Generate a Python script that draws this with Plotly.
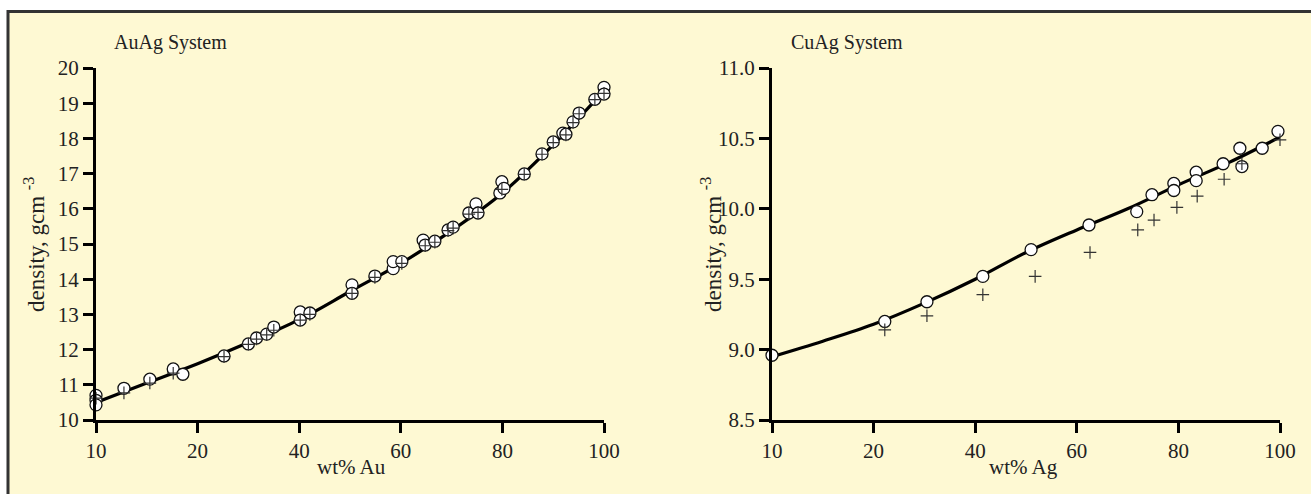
import plotly.graph_objects as go

# ---------------- data ----------------
# AuAg system: x = wt% Au, y = density (g cm^-3)
auag_circle_x = [0, 0, 0, 5.5, 10.6, 15.2, 17.1, 25.2, 30.0, 31.6, 33.6, 35.0, 40.2, 40.2, 42.1,
                 50.4, 50.4, 54.9, 58.5, 58.5, 60.2, 64.4, 64.8, 66.7, 69.3, 70.3, 73.4, 74.8, 75.2,
                 79.5, 79.9, 80.3, 84.3, 87.8, 90.0, 91.9, 92.5, 93.9, 95.1, 98.2, 100, 100]
auag_circle_y = [10.70, 10.56, 10.43, 10.90, 11.16, 11.45, 11.30, 11.82, 12.16, 12.33, 12.44, 12.64,
                 13.07, 12.84, 13.04, 13.84, 13.60, 14.09, 14.30, 14.50, 14.50, 15.11, 14.97, 15.08,
                 15.40, 15.48, 15.88, 16.14, 15.88, 16.45, 16.77, 16.58, 16.99, 17.56, 17.90, 18.15,
                 18.12, 18.47, 18.72, 19.11, 19.45, 19.26]
auag_plus_x = [0, 5.5, 10.6, 15.2, 25.2, 30.0, 31.6, 33.6, 35.0, 40.2, 42.1, 50.4, 54.9, 60.2,
               64.8, 66.7, 69.3, 70.3, 73.4, 75.2, 79.9, 84.3, 87.8, 90.0, 92.5, 93.9, 95.1,
               98.2, 100]
auag_plus_y = [10.62, 10.77, 11.05, 11.33, 11.80, 12.15, 12.30, 12.42, 12.55, 12.84, 13.00, 13.60,
               14.05, 14.45, 14.95, 15.05, 15.38, 15.45, 15.85, 15.90, 16.55, 16.98, 17.55, 17.88,
               18.10, 18.45, 18.70, 19.10, 19.28]
auag_curve_x = [0, 10, 20, 30, 40, 50, 60, 70, 80, 90, 100]
auag_curve_y = [10.50, 11.05, 11.60, 12.20, 12.85, 13.65, 14.45, 15.38, 16.45, 17.82, 19.35]

# CuAg system: x = wt% Ag, y = density (g cm^-3)
cuag_circle_x = [0, 22.2, 30.5, 41.5, 51.0, 62.4, 71.8, 74.8, 79.1, 79.1, 83.5, 83.5, 88.8,
                 92.1, 92.5, 96.5, 99.6]
cuag_circle_y = [8.96, 9.20, 9.34, 9.52, 9.71, 9.885, 9.98, 10.10, 10.18, 10.13, 10.26, 10.20,
                 10.32, 10.43, 10.30, 10.43, 10.55]
cuag_plus_x = [22.2, 30.5, 41.5, 51.8, 62.6, 72.0, 75.2, 79.7, 83.7, 89.0, 92.5, 100]
cuag_plus_y = [9.14, 9.24, 9.39, 9.52, 9.69, 9.85, 9.92, 10.01, 10.09, 10.21, 10.32, 10.49]
cuag_curve_x = [0, 10, 20, 30, 40, 50, 60, 70, 80, 90, 100]
cuag_curve_y = [8.95, 9.06, 9.18, 9.33, 9.50, 9.69, 9.85, 10.00, 10.17, 10.33, 10.51]

x_tickvals = [0, 20, 40, 60, 80, 100]
x_ticktext = ["10", "20", "40", "60", "80", "100"]
auag_yticks = [10, 11, 12, 13, 14, 15, 16, 17, 18, 19, 20]
cuag_yticks = [8.5, 9.0, 9.5, 10.0, 10.5, 11.0]

# ---------------- styling ----------------
W, H = 1311, 494
BG = "#FEF9D3"
FONT = "Liberation Serif"
TXT = "#222222"

fig = go.Figure()

def add_panel(cx, cy, px_, py_, lx, ly, xa, ya):
    fig.add_trace(go.Scatter(x=lx, y=ly, mode="lines", line=dict(color="black", width=3.2, shape="spline"),
                             xaxis=xa, yaxis=ya, hoverinfo="skip"))
    fig.add_trace(go.Scatter(x=cx, y=cy, mode="markers", cliponaxis=False,
                             marker=dict(symbol="circle", size=12, color="white",
                                         line=dict(color="#111111", width=1.3)),
                             xaxis=xa, yaxis=ya))
    fig.add_trace(go.Scatter(x=px_, y=py_, mode="markers", cliponaxis=False,
                             marker=dict(symbol="cross-thin", size=9,
                                         line=dict(color="#333333", width=1.2)),
                             xaxis=xa, yaxis=ya))

add_panel(auag_circle_x, auag_circle_y, auag_plus_x, auag_plus_y, auag_curve_x, auag_curve_y, "x", "y")
add_panel(cuag_circle_x, cuag_circle_y, cuag_plus_x, cuag_plus_y, cuag_curve_x, cuag_curve_y, "x2", "y2")

axis_common = dict(showline=True, linecolor="black", linewidth=3, ticks="outside", ticklen=10,
                   tickwidth=3, tickcolor="black", showgrid=False, zeroline=False,
                   tickfont=dict(family=FONT, size=21, color=TXT), automargin=False)

ydom = [1 - 420 / H, 1 - 68 / H]
fig.update_layout(
    width=W, height=H,
    margin=dict(l=0, r=0, t=0, b=0),
    paper_bgcolor="white", plot_bgcolor="rgba(0,0,0,0)",
    showlegend=False,
    xaxis=dict(domain=[96 / W, 604 / W], range=[0, 100], anchor="y",
               tickvals=x_tickvals, ticktext=x_ticktext, **axis_common),
    yaxis=dict(domain=ydom, range=[10, 20], anchor="x", tickvals=auag_yticks, **axis_common),
    xaxis2=dict(domain=[772 / W, 1280 / W], range=[0, 100], anchor="y2",
                tickvals=x_tickvals, ticktext=x_ticktext, **axis_common),
    yaxis2=dict(domain=ydom, range=[8.5, 11.0], anchor="x2", tickvals=cuag_yticks,
                tickformat=".1f", **axis_common),
)

# background frame (only top and left edges are visible in the reference)
fig.add_shape(type="rect", xref="paper", yref="paper", x0=8 / W, x1=1.05, y0=-0.05, y1=1 - 11.5 / H,
              fillcolor=BG, line=dict(color="#333333", width=3), layer="below")

def ann(text, x, y, size=20, angle=0, xanchor="center"):
    fig.add_annotation(text=text, xref="paper", yref="paper", x=x / W, y=1 - y / H,
                       showarrow=False, textangle=angle, xanchor=xanchor, yanchor="middle",
                       font=dict(family=FONT, size=size, color=TXT))

ann("AuAg System", 112, 43, size=20, xanchor="left")
ann("CuAg System", 789, 43, size=20, xanchor="left")
ann("wt% Au", 351, 467, size=21)
ann("wt% Ag", 1023, 467, size=21)
ann("density, gcm <sup>-3</sup>", 34, 245, size=23, angle=-90)
ann("density, gcm <sup>-3</sup>", 711, 245, size=23, angle=-90)

fig.write_html("out.html", config={"displayModeBar": False},
               post_script="document.body.style.margin='0';document.body.style.overflow='hidden';")
